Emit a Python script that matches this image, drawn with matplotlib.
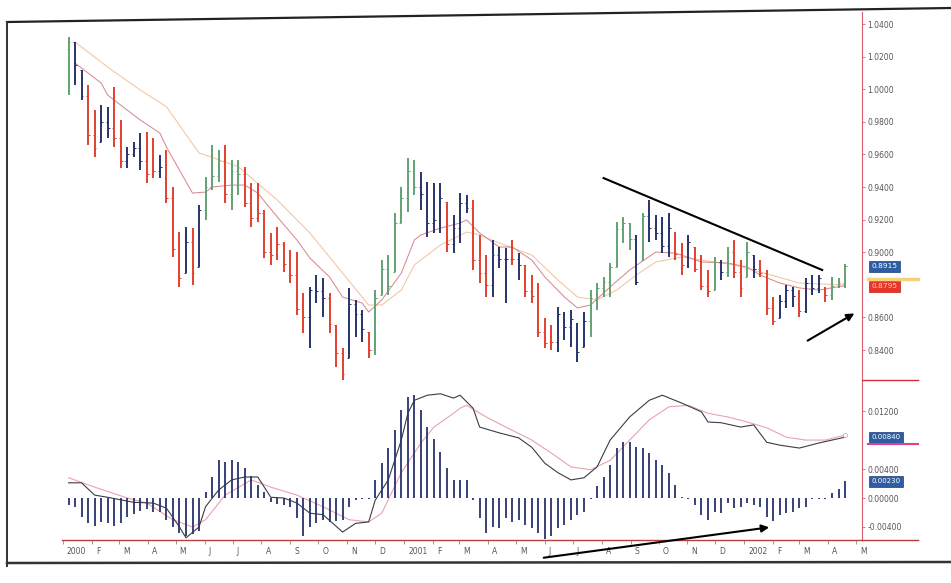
import numpy as np
import pandas as pd
import matplotlib
matplotlib.use("Agg")
import matplotlib.pyplot as plt
import matplotlib.transforms as mtransforms
from matplotlib.lines import Line2D

# ---------------- data (weekly EUR/USD bars, Jan 2000 - Apr 2002) ----------------
start_date = "2000-01-07"
n_bars = 120

highs = [1.0320, 1.0290, 1.0118, 1.0026, 0.9872, 0.9903, 0.9891, 1.0014, 0.9811, 0.9646,
         0.9676, 0.9731, 0.9737, 0.9701, 0.9596, 0.9627, 0.9400, 0.9124, 0.9155, 0.9149,
         0.9290, 0.9461, 0.9658, 0.9627, 0.9658, 0.9566, 0.9566, 0.9523, 0.9425, 0.9425,
         0.9259, 0.9118, 0.9155, 0.9063, 0.9013, 0.9001, 0.8750, 0.8787, 0.8860, 0.8842,
         0.8750, 0.8553, 0.8412, 0.8780, 0.8707, 0.8645, 0.8511, 0.8768, 0.8952, 0.8983,
         0.9241, 0.9400, 0.9578, 0.9566, 0.9492, 0.9431, 0.9425, 0.9425, 0.9308, 0.9228,
         0.9363, 0.9351, 0.9320, 0.9106, 0.8983, 0.9075, 0.9032, 0.9026, 0.9075, 0.8995,
         0.8922, 0.8860, 0.8811, 0.8596, 0.8553, 0.8664, 0.8633, 0.8645, 0.8566, 0.8633,
         0.8768, 0.8811, 0.8848, 0.8934, 0.9185, 0.9216, 0.9179, 0.9106, 0.9241, 0.9320,
         0.9228, 0.9216, 0.9241, 0.9124, 0.9057, 0.9106, 0.9032, 0.8983, 0.8891, 0.8971,
         0.8952, 0.9032, 0.9075, 0.8952, 0.9063, 0.8983, 0.8952, 0.8891, 0.8725, 0.8737,
         0.8799, 0.8787, 0.8768, 0.8842, 0.8860, 0.8860, 0.8787, 0.8848, 0.8842, 0.8925]

lows = [0.9964, 1.0026, 0.9934, 0.9658, 0.9584, 0.9676, 0.9701, 0.9646, 0.9517, 0.9517,
        0.9584, 0.9504, 0.9425, 0.9455, 0.9455, 0.9302, 0.8971, 0.8787, 0.8872, 0.8799,
        0.8909, 0.9198, 0.9382, 0.9431, 0.9302, 0.9259, 0.9351, 0.9277, 0.9155, 0.9185,
        0.8964, 0.8922, 0.8952, 0.8879, 0.8811, 0.8615, 0.8504, 0.8412, 0.8688, 0.8603,
        0.8504, 0.8296, 0.8204, 0.8351, 0.8480, 0.8449, 0.8351, 0.8369, 0.8737, 0.8737,
        0.8879, 0.9179, 0.9247, 0.9351, 0.9259, 0.9093, 0.9118, 0.9118, 0.9001, 0.8995,
        0.9056, 0.9241, 0.8891, 0.8811, 0.8725, 0.8725, 0.8903, 0.8688, 0.8922, 0.8829,
        0.8725, 0.8688, 0.8480, 0.8412, 0.8400, 0.8388, 0.8461, 0.8418, 0.8326, 0.8418,
        0.8480, 0.8645, 0.8725, 0.8725, 0.8909, 0.9056, 0.9013, 0.8799, 0.8952, 0.9063,
        0.9075, 0.8995, 0.8971, 0.8952, 0.8860, 0.8903, 0.8879, 0.8768, 0.8725, 0.8768,
        0.8829, 0.8848, 0.8842, 0.8725, 0.8848, 0.8842, 0.8848, 0.8615, 0.8553, 0.8596,
        0.8658, 0.8664, 0.8603, 0.8627, 0.8737, 0.8750, 0.8695, 0.8707, 0.8780, 0.8780]

closes = [1.0290, 1.0150, 0.9960, 0.9720, 0.9640, 0.9800, 0.9760, 0.9700, 0.9560, 0.9600,
          0.9640, 0.9560, 0.9480, 0.9500, 0.9520, 0.9330, 0.9020, 0.8840, 0.9060, 0.8870,
          0.9260, 0.9400, 0.9470, 0.9560, 0.9360, 0.9500, 0.9480, 0.9300, 0.9210, 0.9240,
          0.9000, 0.8980, 0.9050, 0.8930, 0.8860, 0.8650, 0.8600, 0.8770, 0.8760, 0.8720,
          0.8560, 0.8380, 0.8250, 0.8680, 0.8620, 0.8530, 0.8400, 0.8720, 0.8900, 0.8790,
          0.9180, 0.9330, 0.9500, 0.9400, 0.9360, 0.9180, 0.9200, 0.9330, 0.9050, 0.9150,
          0.9300, 0.9270, 0.8950, 0.8870, 0.8800, 0.8980, 0.8960, 0.8960, 0.8960, 0.8920,
          0.8760, 0.8730, 0.8510, 0.8440, 0.8450, 0.8620, 0.8540, 0.8590, 0.8390, 0.8580,
          0.8720, 0.8780, 0.8820, 0.8910, 0.9140, 0.9180, 0.9080, 0.8820, 0.9220, 0.9150,
          0.9120, 0.9040, 0.9150, 0.8990, 0.8920, 0.9060, 0.8900, 0.8790, 0.8760, 0.8940,
          0.8880, 0.9000, 0.8880, 0.8780, 0.9000, 0.8900, 0.8870, 0.8660, 0.8580, 0.8700,
          0.8770, 0.8730, 0.8640, 0.8810, 0.8780, 0.8840, 0.8740, 0.8790, 0.8810, 0.8915]
first_open = 1.0250

# G = green (up), R = red (down), B = navy (neutral)
bar_state = list("GBBRRBBRRBBBRRBRRRBR" "BGGGRGGRRR" "RRRRRRRBBB" "RRRBBBRGGG"
                 "GGGGBBBBRB" "BBRRRBBBRB" "RRRRRBBBBB" "GGGGGGGBGB"
                 "BBBRRBRRRG" "BGRRGBRRRB" "BBRBBBRGGG")

fast_ma_idx = [1, 2, 5, 6, 9, 11, 14, 15, 17, 19, 21, 22, 25, 27, 29, 32, 35, 37, 40, 42,
               45, 46, 48, 51, 53, 54, 57, 60, 61, 63, 66, 68, 71, 73, 76, 78, 80, 83, 86,
               90, 93, 97, 101, 104, 106, 109, 112, 115, 119]
fast_ma_val = [1.0161, 1.0130, 1.0038, 0.9964, 0.9872, 0.9811, 0.9731, 0.9646, 0.9504, 0.9363,
               0.9369, 0.9400, 0.9412, 0.9412, 0.9363, 0.9216, 0.9075, 0.8964, 0.8848, 0.8725,
               0.8688, 0.8633, 0.8707, 0.8872, 0.9075, 0.9106, 0.9148, 0.9179, 0.9198, 0.9118,
               0.9032, 0.9032, 0.8952, 0.8848, 0.8725, 0.8658, 0.8676, 0.8787, 0.8891, 0.9001,
               0.8995, 0.8940, 0.8934, 0.8909, 0.8860, 0.8811, 0.8781, 0.8768, 0.8795]

slow_ma_idx = [1, 6, 11, 15, 20, 21, 26, 32, 37, 42, 45, 46, 48, 51, 53, 57, 61, 63, 66, 71,
               75, 78, 81, 84, 87, 90, 94, 97, 102, 106, 112, 119]
slow_ma_val = [1.0290, 1.0136, 0.9995, 0.9893, 0.9609, 0.9596, 0.9525, 0.9320, 0.9118, 0.8872,
               0.8725, 0.8676, 0.8676, 0.8768, 0.8922, 0.9044, 0.9124, 0.9106, 0.9057, 0.8983,
               0.8829, 0.8725, 0.8707, 0.8768, 0.8860, 0.8940, 0.8971, 0.8952, 0.8922, 0.8879,
               0.8811, 0.8799]

macd_hist = [-0.0010, -0.0012, -0.0026, -0.0035, -0.0038, -0.0033, -0.0035, -0.0038, -0.0035, -0.0026,
             -0.0022, -0.0018, -0.0015, -0.0020, -0.0020, -0.0030, -0.0040, -0.0049, -0.0053, -0.0050,
             -0.0045, 0.0008, 0.0029, 0.0052, 0.0050, 0.0052, 0.0050, 0.0042, 0.0030, 0.0018,
             0.0008, -0.0005, -0.0008, -0.0010, -0.0012, -0.0028, -0.0053, -0.0040, -0.0035, -0.0030,
             -0.0033, -0.0032, -0.0030, -0.0012, -0.0003, -0.0002, -0.0002, 0.0025, 0.0048, 0.0069,
             0.0094, 0.0121, 0.0140, 0.0142, 0.0121, 0.0098, 0.0082, 0.0064, 0.0041, 0.0025,
             0.0025, 0.0025, -0.0003, -0.0028, -0.0049, -0.0040, -0.0042, -0.0028, -0.0033, -0.0030,
             -0.0037, -0.0042, -0.0049, -0.0056, -0.0053, -0.0042, -0.0037, -0.0030, -0.0023, -0.0019,
             -0.0001, 0.0016, 0.0029, 0.0046, 0.0069, 0.0078, 0.0078, 0.0071, 0.0069, 0.0062,
             0.0052, 0.0046, 0.0034, 0.0018, 0.0001, -0.0001, -0.0009, -0.0023, -0.0030, -0.0019,
             -0.0021, -0.0007, -0.0014, -0.0012, -0.0007, -0.0009, -0.0012, -0.0026, -0.0032, -0.0023,
             -0.0021, -0.0019, -0.0014, -0.0012, -0.0002, -0.0002, -0.0001, 0.0007, 0.0012, 0.0023]

macd_idx = [0, 2, 4, 6, 10, 13, 15, 17, 18, 20, 21, 23, 25, 27, 29, 31, 33, 35, 37, 39,
            42, 44, 46, 47, 49, 51, 52, 53, 55, 57, 59, 60, 62, 63, 66, 69, 71, 73, 75, 77,
            79, 81, 83, 86, 89, 91, 94, 97, 98, 100, 103, 105, 107, 109, 112, 115, 117, 119]
macd_val = [0.0021, 0.0021, 0.0004, 0.0001, -0.0006, -0.0007, -0.0014, -0.0040, -0.0055, -0.0040,
            -0.0012, 0.0011, 0.0025, 0.0029, 0.0029, 0.0001, 0.0000, -0.0007, -0.0021, -0.0023,
            -0.0047, -0.0035, -0.0033, -0.0003, 0.0025, 0.0080, 0.0117, 0.0135, 0.0142, 0.0144,
            0.0138, 0.0142, 0.0124, 0.0098, 0.0090, 0.0083, 0.0070, 0.0048, 0.0035, 0.0025,
            0.0028, 0.0043, 0.0080, 0.0112, 0.0135, 0.0142, 0.0131, 0.0119, 0.0105, 0.0104,
            0.0098, 0.0101, 0.0077, 0.0073, 0.0069, 0.0076, 0.0080, 0.0084]

signal_idx = [0, 4, 9, 12, 16, 19, 21, 24, 28, 31, 35, 39, 43, 46, 48, 51, 54, 56, 59, 60,
              61, 64, 67, 71, 74, 77, 80, 83, 86, 89, 92, 95, 98, 101, 104, 107, 110, 113, 116, 119]
signal_val = [0.0028, 0.0015, 0.0000, -0.0007, -0.0030, -0.0040, -0.0030, 0.0004, 0.0025, 0.0015,
              0.0004, -0.0012, -0.0030, -0.0033, -0.0021, 0.0035, 0.0076, 0.0098, 0.0117, 0.0124,
              0.0128, 0.0112, 0.0098, 0.0080, 0.0062, 0.0043, 0.0039, 0.0052, 0.0080, 0.0108,
              0.0126, 0.0128, 0.0117, 0.0112, 0.0105, 0.0097, 0.0084, 0.0080, 0.0080, 0.0087]

price_ticks = [1.04, 1.02, 1.00, 0.98, 0.96, 0.94, 0.92, 0.90, 0.86, 0.84]
macd_ticks = [0.012, 0.004, 0.0, -0.004]

# ---------------- styling ----------------
W, H = 951, 583
COL = {"G": "#62a274", "R": "#e2402f", "B": "#28336a"}
AXIS_RED = "#d9606e"
LBL = "#555555"

fig = plt.figure(figsize=(W / 100, H / 100), dpi=100)
fig.patch.set_facecolor("white")

def fx(px):
    return px / W

def fy(py):
    return 1 - py / H

ax = fig.add_axes([fx(62), fy(380), fx(862) - fx(62), fy(12) - fy(380)])
axm = fig.add_axes([fx(62), fy(540), fx(862) - fx(62), fy(380) - fy(540)], sharex=ax)

x = np.arange(n_bars)
dates = pd.date_range(start_date, periods=n_bars, freq="W-FRI")
highs = np.array(highs); lows = np.array(lows); closes = np.array(closes)
opens = np.clip(np.r_[first_open, closes[:-1]], lows, highs)
colors = [COL[s] for s in bar_state]

# ---------------- price panel ----------------
ax.vlines(x, lows, highs, colors=colors, lw=1.4, clip_on=False, zorder=3)
tk = 0.28
ax.hlines(opens, x - tk, x, colors=colors, lw=0.7, zorder=3)
ax.hlines(closes, x, x + tk, colors=colors, lw=0.7, zorder=3)
ax.plot(slow_ma_idx, slow_ma_val, color="#f4c4a0", lw=0.75, zorder=2)
ax.plot(fast_ma_idx, fast_ma_val, color="#d98a90", lw=0.75, zorder=2)

ax.set_xlim(-1.0, 121.6)
ax.set_ylim(0.8216, 1.0474)
for s in ["left", "top", "bottom"]:
    ax.spines[s].set_visible(False)
ax.spines["right"].set_color(AXIS_RED)
ax.spines["right"].set_linewidth(0.8)
ax.yaxis.tick_right()
ax.set_yticks(price_ticks)
ax.set_yticklabels([f"{v:.4f}" for v in price_ticks])
ax.tick_params(axis="y", length=2, width=0.6, color=AXIS_RED, labelsize=5.5,
               labelcolor=LBL, pad=2)
ax.tick_params(axis="x", which="both", bottom=False, labelbottom=False)

# trend line and arrow
ax.plot([82.0, 115.5], [0.9455, 0.8891], color="black", lw=1.5, zorder=4)
ax.annotate("", xy=(120.8, 0.8633), xytext=(112.9, 0.8449),
            arrowprops=dict(arrowstyle="-|>", color="black", lw=1.5, mutation_scale=11),
            annotation_clip=False, zorder=5)

# value boxes
ax.text(1.012, closes[-1], f"{closes[-1]:.4f}", transform=ax.get_yaxis_transform(),
        fontsize=5.3, color="white", va="center", ha="left",
        bbox=dict(boxstyle="square,pad=0.35", fc="#2f5da3", ec="#1f3f7a", lw=0.5), zorder=6)
ax.text(1.012, fast_ma_val[-1] - 0.0005, f"{fast_ma_val[-1]:.4f}", transform=ax.get_yaxis_transform(),
        fontsize=5.3, color="#ffd0c8", va="center", ha="left",
        bbox=dict(boxstyle="square,pad=0.35", fc="#e8352a", ec="#c02010", lw=0.5), zorder=6)
fig.add_artist(Line2D([fx(868), fx(918)], [fy(279), fy(279)], color="#f3d27a", lw=2.5))

# ---------------- MACD panel ----------------
axm.vlines(x, 0, macd_hist, colors=COL["B"], lw=1.3, zorder=3)
axm.plot(signal_idx, signal_val, color="#e8a2b4", lw=0.8, zorder=2)
axm.plot(macd_idx, macd_val, color="#3b3b4b", lw=0.8, zorder=2)
axm.plot([signal_idx[-1]], [signal_val[-1]], "o", ms=3, mfc="white", mec="#e8a2b4", mew=0.6, zorder=4)
axm.set_ylim(-0.0058, 0.0163)
for s in ["left", "top"]:
    axm.spines[s].set_visible(False)
axm.spines["right"].set_color(AXIS_RED)
axm.spines["right"].set_linewidth(0.8)
axm.spines["bottom"].set_color("#b8403a")
axm.spines["bottom"].set_linewidth(1.0)
axm.yaxis.tick_right()
axm.set_yticks(macd_ticks)
axm.set_yticklabels([f"{v:.5f}" for v in macd_ticks])
axm.tick_params(axis="y", length=2, width=0.6, color=AXIS_RED, labelsize=5.5,
                labelcolor=LBL, pad=2)

axm.text(1.012, macd_val[-1], f"{macd_val[-1]:.5f}", transform=axm.get_yaxis_transform(),
         fontsize=5.0, color="white", va="center", ha="left",
         bbox=dict(boxstyle="square,pad=0.35", fc="#2f5da3", ec="#1f3f7a", lw=0.5), zorder=6)
fig.add_artist(Line2D([fx(868), fx(918)], [fy(444), fy(444)], color="#e0408a", lw=1.5))
axm.text(1.012, macd_hist[-1], f"{macd_hist[-1]:.5f}", transform=axm.get_yaxis_transform(),
         fontsize=5.0, color="white", va="center", ha="left",
         bbox=dict(boxstyle="square,pad=0.35", fc="#2f5da3", ec="#1f3f7a", lw=0.5), zorder=6)

axm.annotate("", xy=(107.8, -0.0040), xytext=(72.4, -0.0083),
             arrowprops=dict(arrowstyle="-|>", color="black", lw=1.5, mutation_scale=11),
             annotation_clip=False, zorder=5)

# month axis
month_starts = pd.date_range("2000-01-01", "2002-05-01", freq="MS")
month_pos = (month_starts - dates[0]).days / 7.0
month_lbl = [str(d.year) if d.month == 1 else d.strftime("%b")[0] for d in month_starts]
axm.set_xticks(month_pos)
axm.set_xticklabels(month_lbl)
axm.tick_params(axis="x", length=3, width=0.6, color="#888888", labelsize=5.5,
                labelcolor=LBL, pad=2, direction="out")
offset = mtransforms.ScaledTranslation(4 / 100, 0, fig.dpi_scale_trans)
for lab in axm.get_xticklabels():
    lab.set_horizontalalignment("left")
    lab.set_transform(lab.get_transform() + offset)

# panel separators / extended axis lines
fig.add_artist(Line2D([fx(862), fx(918)], [fy(380), fy(380)], color="#d03040", lw=1.0))
fig.add_artist(Line2D([fx(862), fx(918)], [fy(540), fy(540)], color="#b8403a", lw=1.0))

# outer scan frame
fig.add_artist(Line2D([fx(7), fx(951)], [fy(22), fy(8)], color="#222222", lw=1.6))
fig.add_artist(Line2D([fx(7), fx(7)], [fy(22), fy(566)], color="#333333", lw=1.4))
fig.add_artist(Line2D([fx(7), fx(951)], [fy(563), fy(562)], color="#333333", lw=1.8))

fig.savefig("out.png", dpi=100, facecolor="white")
